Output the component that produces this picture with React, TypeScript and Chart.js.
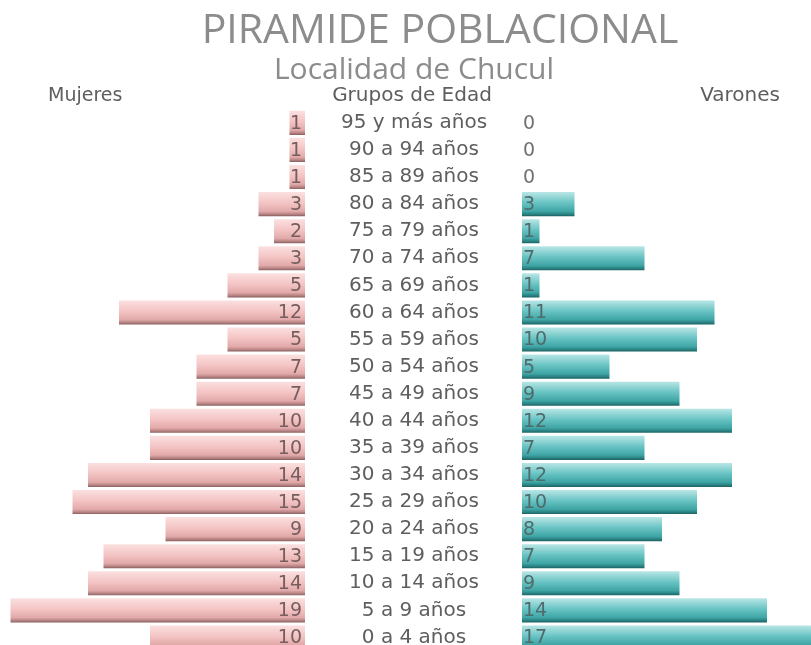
import React, { useEffect, useRef } from "react";
import { Chart, registerables } from "chart.js";

Chart.register(...registerables);

// ---- data (top row first) ----
const ageGroups = [
  "95 y más años",
  "90 a 94 años",
  "85 a 89 años",
  "80 a 84 años",
  "75 a 79 años",
  "70 a 74 años",
  "65 a 69 años",
  "60 a 64 años",
  "55 a 59 años",
  "50 a 54 años",
  "45 a 49 años",
  "40 a 44 años",
  "35 a 39 años",
  "30 a 34 años",
  "25 a 29 años",
  "20 a 24 años",
  "15 a 19 años",
  "10 a 14 años",
  "5 a 9 años",
  "0 a 4 años",
];
const mujeres = [1, 1, 1, 3, 2, 3, 5, 12, 5, 7, 7, 10, 10, 14, 15, 9, 13, 14, 19, 10];
const varones = [0, 0, 0, 3, 1, 7, 1, 11, 10, 5, 9, 12, 7, 12, 10, 8, 7, 9, 14, 17];

const titleText = "PIRAMIDE POBLACIONAL";
const subtitleText = "Localidad de Chucul";
const leftHeader = "Mujeres";
const centerHeader = "Grupos de Edad";
const rightHeader = "Varones";

// ---- layout / style ----
const LABEL_FONT = '"DejaVu Sans", Verdana, sans-serif';
const LABEL_SIZE = 20;
const TITLE_FONT = '"Open Sans", "Noto Sans", sans-serif';
const W_LEFT = 305;
const W_RIGHT = 506;
const H = 651;
const TOP = 109.3;
const AXIS_W = 217;
const PX_W = 15.5;
const PX_M = 17.5;
const CENTER_X = 414;
const BAR_PCT = 0.89;

const pinkStops: [number, string][] = [
  [0, "#fbe0e0"],
  [0.45, "#f4c4c4"],
  [0.8, "#e2a9a9"],
  [0.92, "#b68383"],
  [1, "#8a5e5e"],
];
const tealStops: [number, string][] = [
  [0, "#b9e6e6"],
  [0.45, "#68c3c3"],
  [0.8, "#3fa5a5"],
  [0.92, "#2a8181"],
  [1, "#1c6262"],
];

function barGradient(stops: [number, string][]) {
  return (ctx: any) => {
    const chart = ctx.chart;
    const y = chart.scales && chart.scales.y;
    if (!chart.chartArea || !y || ctx.type !== "data") return stops[1][1];
    const c = y.getPixelForValue(ctx.dataIndex);
    const h = (y.height / ageGroups.length) * BAR_PCT;
    const g = chart.ctx.createLinearGradient(0, c - h / 2, 0, c + h / 2);
    stops.forEach(([o, col]) => g.addColorStop(o, col));
    return g;
  };
}

function valueLabels(side: "left" | "right") {
  return {
    id: "valueLabels_" + side,
    afterDatasetsDraw(chart: any) {
      const ctx = chart.ctx;
      const meta = chart.getDatasetMeta(0);
      const data = chart.data.datasets[0].data as number[];
      ctx.save();
      ctx.font = `${LABEL_SIZE - 1}px ${LABEL_FONT}`;
      ctx.textBaseline = "middle";
      meta.data.forEach((el: any, i: number) => {
        const { y, base } = el.getProps(["y", "base"], true);
        if (side === "left") {
          ctx.textAlign = "right";
          ctx.fillStyle = "#765e5e";
          ctx.fillText(String(data[i]), base - 3, y + 1);
        } else {
          ctx.textAlign = "left";
          ctx.fillStyle = data[i] === 0 ? "#707070" : "#4f6b6b";
          ctx.fillText(String(data[i]), base + 1, y + 1);
        }
      });
      ctx.restore();
    },
  };
}

export default function App() {
  const leftRef = useRef<HTMLCanvasElement>(null);
  const rightRef = useRef<HTMLCanvasElement>(null);

  useEffect(() => {
    const m = document.createElement("canvas").getContext("2d")!;
    m.font = `${LABEL_SIZE}px ${LABEL_FONT}`;
    const widest = Math.max(...ageGroups.map((l) => m.measureText(l).width));
    const tickPad = W_LEFT + AXIS_W - CENTER_X - widest / 2;

    const left = new Chart(leftRef.current!, {
      type: "bar",
      data: {
        labels: ageGroups,
        datasets: [
          {
            label: leftHeader,
            data: mujeres,
            backgroundColor: barGradient(pinkStops) as any,
            borderWidth: 0,
            barPercentage: BAR_PCT,
            categoryPercentage: 1,
          },
        ],
      },
      options: {
        indexAxis: "y",
        responsive: false,
        animation: false,
        devicePixelRatio: 1,
        layout: { padding: { top: TOP, bottom: 0, left: 0, right: 0 } },
        plugins: { legend: { display: false }, tooltip: { enabled: false }, title: { display: false } },
        scales: {
          x: { display: false, reverse: true, min: 0, max: W_LEFT / PX_W },
          y: { display: false, type: "category", offset: true },
        },
      },
      plugins: [valueLabels("left")],
    });

    const right = new Chart(rightRef.current!, {
      type: "bar",
      data: {
        labels: ageGroups,
        datasets: [
          {
            label: rightHeader,
            data: varones,
            backgroundColor: barGradient(tealStops) as any,
            borderWidth: 0,
            barPercentage: BAR_PCT,
            categoryPercentage: 1,
          },
        ],
      },
      options: {
        indexAxis: "y",
        responsive: false,
        animation: false,
        devicePixelRatio: 1,
        layout: { padding: { top: TOP, bottom: 0, left: 0, right: 0 } },
        plugins: { legend: { display: false }, tooltip: { enabled: false }, title: { display: false } },
        scales: {
          x: { display: false, min: 0, max: (W_RIGHT - AXIS_W) / PX_M },
          y: {
            type: "category",
            offset: true,
            grid: { display: false, drawTicks: false },
            border: { display: false },
            ticks: {
              autoSkip: false,
              crossAlign: "center",
              padding: tickPad,
              color: "#5e5e5e",
              font: { family: LABEL_FONT, size: LABEL_SIZE },
            },
            afterFit: (scale: any) => {
              scale.width = AXIS_W;
              scale.paddingTop = 0;
              scale.paddingBottom = 0;
            },
          },
        },
      },
      plugins: [valueLabels("right")],
    });

    return () => {
      left.destroy();
      right.destroy();
    };
  }, []);

  const textBase: React.CSSProperties = {
    position: "absolute",
    whiteSpace: "nowrap",
    lineHeight: 1,
    margin: 0,
  };

  return (
    <div
      style={{
        position: "absolute",
        left: 0,
        top: 0,
        width: 811,
        height: 645,
        overflow: "hidden",
        background: "#ffffff",
      }}
    >
      <canvas ref={leftRef} width={W_LEFT} height={H} style={{ position: "absolute", left: 0, top: 0, width: W_LEFT, height: H }} />
      <canvas ref={rightRef} width={W_RIGHT} height={H} style={{ position: "absolute", left: W_LEFT, top: 0, width: W_RIGHT, height: H }} />
      <div style={{ ...textBase, left: 440, top: 7, transform: "translateX(-50%)", fontFamily: TITLE_FONT, fontWeight: 400, fontSize: 41, color: "#8c8c8c" }}>
        {titleText}
      </div>
      <div style={{ ...textBase, left: 414, top: 53, transform: "translateX(-50%)", fontFamily: TITLE_FONT, fontWeight: 400, fontSize: 30, color: "#8c8c8c" }}>
        {subtitleText}
      </div>
      <div style={{ ...textBase, left: 48, top: 85, fontFamily: LABEL_FONT, fontSize: 19, color: "#5e5e5e" }}>{leftHeader}</div>
      <div style={{ ...textBase, left: 412, top: 84, transform: "translateX(-50%)", fontFamily: LABEL_FONT, fontSize: LABEL_SIZE, color: "#5e5e5e" }}>
        {centerHeader}
      </div>
      <div style={{ ...textBase, right: 31, top: 84, fontFamily: LABEL_FONT, fontSize: LABEL_SIZE, color: "#5e5e5e" }}>{rightHeader}</div>
    </div>
  );
}
